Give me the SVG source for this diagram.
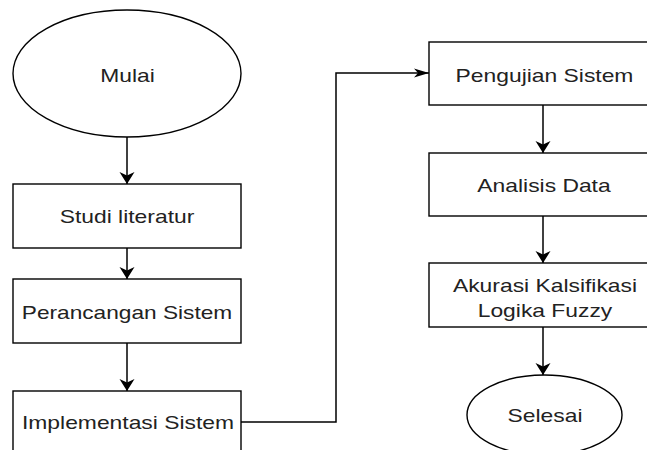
<svg xmlns="http://www.w3.org/2000/svg" width="647" height="450" viewBox="0 0 647 450">
<style>
.shape{fill:#fff;stroke:#000;stroke-width:1.4}
.lbl{font-family:"Liberation Sans",Arial,sans-serif;font-size:18px;fill:#222;text-anchor:middle}
.conn{fill:none;stroke:#000;stroke-width:1.5}
</style>
<defs>
<marker id="arrV" markerUnits="userSpaceOnUse" markerWidth="14" markerHeight="18" viewBox="0 0 14 18" refX="12" refY="9" orient="auto">
<path d="M0,1.5 L12,9 L0,16.5 L3.5,9 Z" fill="#000"/>
</marker>
<marker id="arrH" markerUnits="userSpaceOnUse" markerWidth="16" markerHeight="12" viewBox="0 0 16 12" refX="15" refY="6" orient="auto">
<path d="M0,1.5 L15,6 L0,10.5 L4,6 Z" fill="#000"/>
</marker>
</defs>
<rect width="647" height="450" fill="#fff"/>
<g id="connectors">
<line class="conn" x1="127" y1="137" x2="127" y2="184" marker-end="url(#arrV)"/>
<line class="conn" x1="127" y1="248" x2="127" y2="279" marker-end="url(#arrV)"/>
<line class="conn" x1="127" y1="343" x2="127" y2="391" marker-end="url(#arrV)"/>
<polyline class="conn" points="241,422 336,422 336,73 429,73" marker-end="url(#arrH)"/>
<line class="conn" x1="543" y1="105" x2="543" y2="153" marker-end="url(#arrV)"/>
<line class="conn" x1="543" y1="216" x2="543" y2="263" marker-end="url(#arrV)"/>
<line class="conn" x1="543" y1="327" x2="543" y2="375" marker-end="url(#arrV)"/>
</g>
<g id="mulai">
<ellipse class="shape" cx="127" cy="73.5" rx="114" ry="63.5"/>
<text class="lbl" transform="translate(127.5,82) scale(1.27,1)">Mulai</text>
</g>
<g id="studi">
<rect class="shape" x="13" y="184" width="228" height="64"/>
<text class="lbl" transform="translate(127,223) scale(1.27,1)">Studi literatur</text>
</g>
<g id="perancangan">
<rect class="shape" x="13" y="279" width="228" height="64"/>
<text class="lbl" transform="translate(127,319) scale(1.26,1)">Perancangan Sistem</text>
</g>
<g id="implementasi">
<rect class="shape" x="13" y="391" width="228" height="64"/>
<text class="lbl" transform="translate(128,429) scale(1.27,1)">Implementasi Sistem</text>
</g>
<g id="pengujian">
<rect class="shape" x="429" y="42" width="228" height="63"/>
<text class="lbl" transform="translate(544.5,81.5) scale(1.27,1)">Pengujian Sistem</text>
</g>
<g id="analisis">
<rect class="shape" x="429" y="153" width="228" height="63"/>
<text class="lbl" transform="translate(544,192) scale(1.27,1)">Analisis Data</text>
</g>
<g id="akurasi">
<rect class="shape" x="429" y="263" width="228" height="64"/>
<text class="lbl" transform="translate(545,292) scale(1.27,1)">Akurasi Kalsifikasi</text>
<text class="lbl" transform="translate(545,317) scale(1.27,1)">Logika Fuzzy</text>
</g>
<g id="selesai">
<ellipse class="shape" cx="544.5" cy="415" rx="77.5" ry="40"/>
<text class="lbl" transform="translate(545,422) scale(1.27,1)">Selesai</text>
</g>
</svg>
